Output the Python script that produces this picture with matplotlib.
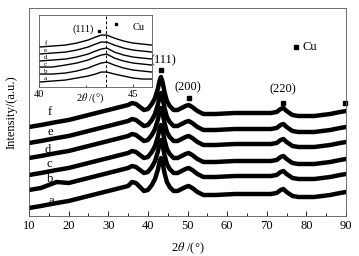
#!/usr/bin/python

import matplotlib
matplotlib.use("Agg")
import matplotlib.pyplot as plt
from matplotlib.ticker import MultipleLocator

plt.rcParams["font.family"] = ["Liberation Serif", "DejaVu Serif"]
plt.rcParams["mathtext.fontset"] = "stix"

# main pattern, 2theta in degrees, intensity in arbitrary units (stacked)
two_theta = [10, 13, 17, 20, 25, 30, 33, 35, 36, 37, 38, 39, 40, 41, 41.8,
             42.5, 43, 43.3, 43.7, 44.2, 44.8, 45.5, 46.5, 47.5, 48.5, 49.5,
             50.3, 51.2, 52.5, 54, 57, 62, 67, 71, 72.5, 73.5, 74.2, 75, 76.5,
             78, 82, 86, 88.5, 90]
curve_f = [89, 91, 94, 96, 101, 106, 109, 111, 113, 112, 109, 106, 107, 112,
           118, 127, 136, 139, 134, 124, 115, 110, 106, 106, 108, 110, 111,
           109, 105, 102, 102, 103, 103, 103, 104, 107, 108, 105, 101, 100,
           100, 102, 104, 105]
curve_e = [73, 75, 78, 80, 85, 90, 93, 95, 97, 96, 93, 90, 91, 96, 102, 111,
           120, 123, 118, 108, 99, 94, 90, 90, 92, 94, 95, 93, 89, 86, 86, 87,
           87, 87, 88, 91, 92, 89, 85, 84, 84, 86, 88, 89]
curve_d = [58, 60, 63, 65, 70, 75, 78, 80, 82, 81, 78, 75, 76, 81, 87, 96,
           105, 108, 103, 93, 84, 79, 75, 75, 77, 79, 80, 78, 74, 71, 71, 72,
           72, 72, 73, 76, 77, 74, 70, 69, 69, 71, 73, 74]
curve_c = [41, 43, 46, 48, 53, 58, 61, 63, 65, 64, 61, 58, 59, 64, 70, 79, 88,
           91, 86, 76, 67, 62, 58, 58, 60, 62, 63, 61, 57, 54, 54, 55, 55, 55,
           56, 59, 60, 57, 53, 52, 52, 54, 56, 57]
curve_b = [26, 28, 34, 33, 38, 43, 46, 48, 50, 49, 46, 43, 44, 49, 55, 64, 73,
           76, 71, 61, 52, 47, 43, 43, 45, 47, 48, 46, 42, 39, 39, 40, 40, 40,
           41, 44, 45, 42, 38, 37, 37, 39, 41, 42]
curve_a = [8, 10, 13, 15, 20, 25, 28, 30, 34, 33, 29, 25, 26, 31, 37, 46, 55,
           58, 53, 43, 34, 29, 25, 25, 27, 29, 30, 28, 24, 21, 21, 22, 22, 22,
           23, 26, 27, 24, 20, 19, 19, 21, 23, 24]
curves = [curve_a, curve_b, curve_c, curve_d, curve_e, curve_f]
curve_names = ["a", "b", "c", "d", "e", "f"]
name_x = [15.6, 15.4, 15.0, 14.8, 15.3, 15.3]
name_y = [15, 37, 52, 66, 84, 104]

# Cu reflections
peak_labels = ["(111)", "(200)", "(220)"]
peak_pos = [43.3, 50.4, 74.1, 89.8]
peak_mark_y = [146, 118, 113, 113]
peak_label_x = [43.8, 50.2, 74.1]
peak_label_y = [156, 129, 127]

# inset, zoom on the (111) region
inset_theta = [40, 40.7, 41.4, 42, 42.6, 43, 43.3, 43.6, 44, 44.5, 45, 45.5, 46]
inset_f = [40, 41, 42, 44, 47, 50, 52, 52, 49, 46, 44, 43, 42]
inset_e = [33, 34, 35, 37, 40, 43, 45, 45, 42, 39, 37, 36, 35]
inset_d = [26, 27, 28, 30, 33, 36, 38, 39, 35, 32, 30, 29, 28]
inset_c = [20, 20, 22, 24, 27, 30, 32, 33, 29, 26, 24, 23, 22]
inset_b = [13, 13, 14, 16, 19, 22, 24, 25, 22, 19, 17, 16, 15]
inset_a = [5, 6, 7, 9, 11, 13, 15, 15, 13, 11, 9, 8, 8]
inset_curves = [inset_a, inset_b, inset_c, inset_d, inset_e, inset_f]
inset_name_y = [9, 16, 23, 30, 37, 44]
inset_line = 43.55


def draw_main(fig):
    ax = fig.add_axes([0.0808, 0.15625, 0.883, 0.8125])
    for ys in curves:
        ax.plot(two_theta, ys, color="black", lw=3.2, solid_joinstyle="round")
    for name, x, y in zip(curve_names, name_x, name_y):
        ax.text(x, y, name, fontsize=9, ha="center", va="center")
    ax.plot(peak_pos, peak_mark_y, "s", color="black", ms=3, clip_on=False)
    for lab, x, y in zip(peak_labels, peak_label_x, peak_label_y):
        ax.text(x, y, lab, fontsize=9, ha="center", va="center")
    ax.plot([77.4], [169], "s", color="black", ms=3)
    ax.text(79.0, 169, "Cu", fontsize=9, ha="left", va="center")

    ax.set_xlim(10, 90)
    ax.set_ylim(0, 208)
    ax.xaxis.set_major_locator(MultipleLocator(10))
    ax.xaxis.set_minor_locator(MultipleLocator(5))
    ax.tick_params(axis="x", which="both", direction="in", labelsize=9,
                   pad=3, width=0.6)
    ax.tick_params(axis="x", which="major", length=3.5)
    ax.tick_params(axis="x", which="minor", length=2)
    ax.set_yticks([])
    for sp in ax.spines.values():
        sp.set_linewidth(0.6)
        sp.set_color("#555555")
    ax.set_xlabel(r"2$\theta$ /(°)", fontsize=9, labelpad=6)
    ax.set_ylabel("Intensity/(a.u.)", fontsize=9, labelpad=8)
    return ax


def draw_inset(fig):
    ax = fig.add_axes([0.1086, 0.660, 0.3148, 0.281])
    for ys in inset_curves:
        ax.plot(inset_theta, ys, color="black", lw=1.0)
    for name, y in zip(curve_names, inset_name_y):
        ax.text(40.35, y, name, fontsize=5, ha="center", va="center")
    ax.axvline(inset_line, color="black", lw=0.7, ls=(0, (3, 2)))
    ax.text(42.34, 58, "(111)", fontsize=7.5, ha="center", va="center")
    ax.plot([43.2, 44.1], [56, 63], "s", color="black", ms=1.5)
    ax.text(45.3, 60, "Cu", fontsize=7.5, ha="center", va="center")
    ax.text(0.45, -0.16, r"2$\theta$ /(°)", fontsize=7.5, ha="center",
            va="center", transform=ax.transAxes)

    ax.set_xlim(40, 46)
    ax.set_ylim(0, 72)
    ax.set_xticks([40, 45])
    ax.xaxis.set_minor_locator(MultipleLocator(2.5))
    ax.tick_params(axis="x", which="both", direction="in", labelsize=7.5,
                   pad=2, width=0.5)
    ax.tick_params(axis="x", which="major", length=2.5)
    ax.tick_params(axis="x", which="minor", length=1.5)
    ax.set_yticks([])
    for sp in ax.spines.values():
        sp.set_linewidth(0.6)
        sp.set_color("#555555")
    return ax


def main():
    fig = plt.figure(figsize=(3.59, 2.56), dpi=100)
    draw_main(fig)
    draw_inset(fig)
    fig.savefig("out.png", dpi=100)


if __name__ == "__main__":
    main()
